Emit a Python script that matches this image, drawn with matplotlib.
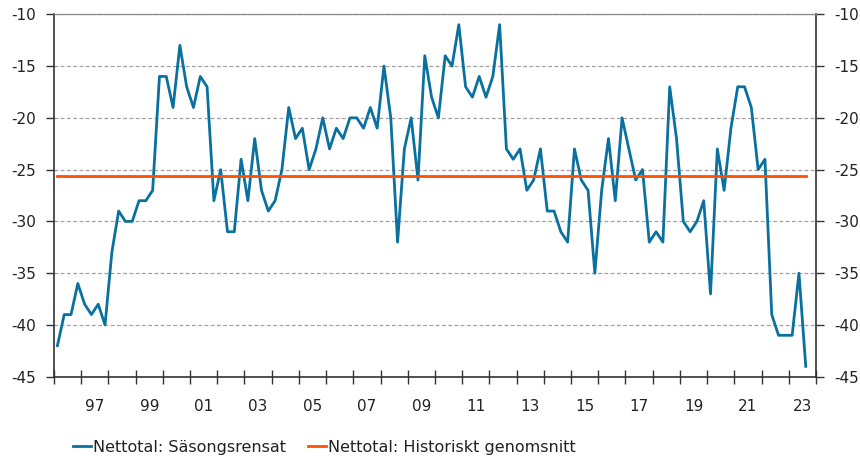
import numpy as np
import matplotlib
matplotlib.use("Agg")
import matplotlib.pyplot as plt
from matplotlib.lines import Line2D

plt.rcParams["axes.unicode_minus"] = False

# Kvartalsdata 1996Q1 - 2023Q3
start_year = 1996
nettotal = [
    -42, -39, -39, -36,   # 1996
    -38, -39, -38, -40,   # 1997
    -33, -29, -30, -30,   # 1998
    -28, -28, -27, -16,   # 1999
    -16, -19, -13, -17,   # 2000
    -19, -16, -17, -28,   # 2001
    -25, -31, -31, -24,   # 2002
    -28, -22, -27, -29,   # 2003
    -28, -25, -19, -22,   # 2004
    -21, -25, -23, -20,   # 2005
    -23, -21, -22, -20,   # 2006
    -20, -21, -19, -21,   # 2007
    -15, -20, -32, -23,   # 2008
    -20, -26, -14, -18,   # 2009
    -20, -14, -15, -11,   # 2010
    -17, -18, -16, -18,   # 2011
    -16, -11, -23, -24,   # 2012
    -23, -27, -26, -23,   # 2013
    -29, -29, -31, -32,   # 2014
    -23, -26, -27, -35,   # 2015
    -27, -22, -28, -20,   # 2016
    -23, -26, -25, -32,   # 2017
    -31, -32, -17, -22,   # 2018
    -30, -31, -30, -28,   # 2019
    -37, -23, -27, -21,   # 2020
    -17, -17, -19, -25,   # 2021
    -24, -39, -41, -41,   # 2022
    -41, -35, -44,        # 2023
]
snitt = -25.6

labels_series = ["Nettotal: Säsongsrensat", "Nettotal: Historiskt genomsnitt"]
year_labels = ["97", "99", "01", "03", "05", "07", "09", "11", "13", "15",
               "17", "19", "21", "23"]

blue = "#0a719f"
orange = "#ff4f00"

x = start_year + (np.arange(len(nettotal)) + 0.5) / 4

fig = plt.figure(figsize=(8.6, 4.59), dpi=100)
ax = fig.add_axes([0.0628, 0.1793, 0.8860, 0.7895])

ax.plot(x, nettotal, color=blue, lw=2.0, zorder=3)
ax.plot([x[0], x[-1]], [snitt, snitt], color=orange, lw=2.0, zorder=4)

ax.set_xlim(1996, 2024)
ax.set_ylim(-45, -10)
ax.set_yticks(np.arange(-45, -9, 5))
ax.yaxis.grid(True, ls=(0, (3, 2)), color="#a0a0a0", lw=0.9)
ax.set_axisbelow(True)

ax.set_xticks(np.arange(1996, 2025))
ax.set_xticklabels([])
ax.set_xticks([int("19" + s) + 0.5 if int(s) > 50 else int("20" + s) + 0.5
               for s in year_labels], minor=True)
ax.set_xticklabels(year_labels, minor=True)
ax.tick_params(axis="x", which="major", direction="inout", length=10,
               width=1, color="#333333")
ax.tick_params(axis="x", which="minor", length=0, pad=16, labelsize=11,
               labelcolor="#222222")
ax.tick_params(axis="y", direction="out", length=6, width=1, color="#333333",
               left=True, right=True, labelleft=True, labelright=True,
               labelsize=11, labelcolor="#222222", pad=7)

for side in ["left", "right", "bottom"]:
    ax.spines[side].set_color("#333333")
    ax.spines[side].set_linewidth(1.2)
ax.spines["top"].set_color("#888888")
ax.spines["top"].set_linewidth(0.9)

handles = [Line2D([], [], color=blue, lw=2.0), Line2D([], [], color=orange, lw=2.0)]
fig.legend(handles, labels_series, loc="center left",
           bbox_to_anchor=(0.0715, 0.026), ncol=2, frameon=False,
           handlelength=1.15, handletextpad=0.1, columnspacing=1.4,
           fontsize=11.5, labelcolor="#222222", borderpad=0.2)

fig.savefig("out.png", dpi=100)
